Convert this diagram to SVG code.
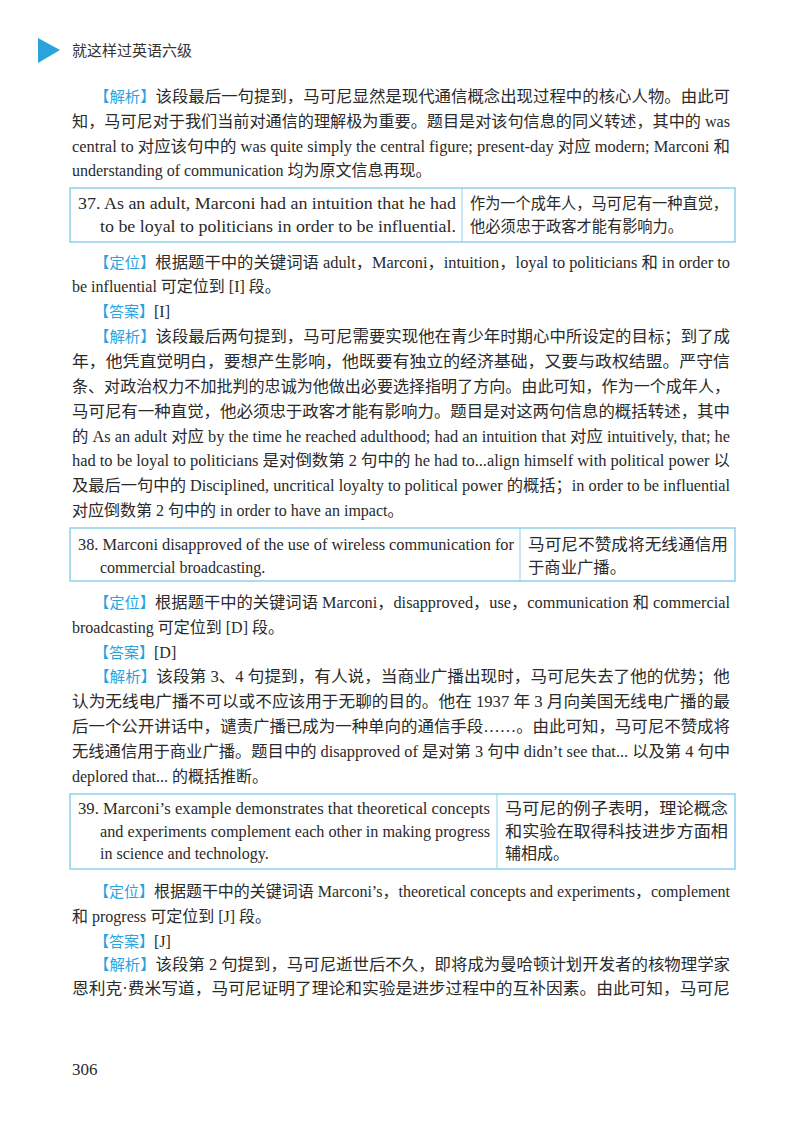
<svg xmlns="http://www.w3.org/2000/svg" width="800" height="1131" viewBox="0 0 800 1131">
<style>
.t{font-family:"Liberation Serif","Noto Sans CJK SC",serif;font-size:16px;fill:#2a2a2a}
.k{fill:#2aa3dc;font-family:"Noto Sans CJK SC",sans-serif;font-size:15px}
.b{fill:#fff;stroke:#8fd0ea;stroke-width:1.5}
.d{stroke:#8fd0ea;stroke-width:1}
.h{font-family:"Noto Sans CJK SC",sans-serif;font-size:15px;fill:#333}
</style>
<rect width="800" height="1131" fill="#fff"/>
<g id="header"><polygon points="38,38 60,50 38,63" fill="#2aa3dc"/><text class="h" x="72" y="56">就这样过英语六级</text></g>
<g id="p1">
<text class="t" x="94" y="102" textLength="636" lengthAdjust="spacingAndGlyphs"><tspan class="k">【解析】</tspan>该段最后一句提到，马可尼显然是现代通信概念出现过程中的核心人物。由此可</text>
<text class="t" x="72" y="127" textLength="658" lengthAdjust="spacingAndGlyphs">知，马可尼对于我们当前对通信的理解极为重要。题目是对该句信息的同义转述，其中的 was</text>
<text class="t" x="72" y="152" textLength="658" lengthAdjust="spacingAndGlyphs">central to 对应该句中的 was quite simply the central figure; present-day 对应 modern; Marconi 和</text>
<text class="t" x="72" y="176">understanding of communication 均为原文信息再现。</text>
</g>
<g id="box37"><rect class="b" x="70" y="188" width="665" height="54"/><line class="d" x1="462" y1="188" x2="462" y2="242"/>
<text class="t" x="78" y="209" textLength="378" lengthAdjust="spacingAndGlyphs">37. As an adult, Marconi had an intuition that he had</text>
<text class="t" x="100" y="232" textLength="356" lengthAdjust="spacingAndGlyphs">to be loyal to politicians in order to be influential.</text>
<text class="t" x="470" y="209" textLength="258" lengthAdjust="spacingAndGlyphs">作为一个成年人，马可尼有一种直觉，</text>
<text class="t" x="470" y="232" textLength="213" lengthAdjust="spacingAndGlyphs">他必须忠于政客才能有影响力。</text></g>
<g id="p2">
<text class="t" x="94" y="268" textLength="636" lengthAdjust="spacingAndGlyphs"><tspan class="k">【定位】</tspan>根据题干中的关键词语 adult，Marconi，intuition，loyal to politicians 和 in order to</text>
<text class="t" x="72" y="292">be influential 可定位到 [I] 段。</text>
<text class="t" x="94" y="317"><tspan class="k">【答案】</tspan>[I]</text>
<text class="t" x="94" y="342" textLength="636" lengthAdjust="spacingAndGlyphs"><tspan class="k">【解析】</tspan>该段最后两句提到，马可尼需要实现他在青少年时期心中所设定的目标；到了成</text>
<text class="t" x="72" y="367" textLength="658" lengthAdjust="spacingAndGlyphs">年，他凭直觉明白，要想产生影响，他既要有独立的经济基础，又要与政权结盟。严守信</text>
<text class="t" x="72" y="392" textLength="658" lengthAdjust="spacingAndGlyphs">条、对政治权力不加批判的忠诚为他做出必要选择指明了方向。由此可知，作为一个成年人，</text>
<text class="t" x="72" y="417" textLength="658" lengthAdjust="spacingAndGlyphs">马可尼有一种直觉，他必须忠于政客才能有影响力。题目是对这两句信息的概括转述，其中</text>
<text class="t" x="72" y="442" textLength="658" lengthAdjust="spacingAndGlyphs">的 As an adult 对应 by the time he reached adulthood; had an intuition that 对应 intuitively, that; he</text>
<text class="t" x="72" y="466" textLength="658" lengthAdjust="spacingAndGlyphs">had to be loyal to politicians 是对倒数第 2 句中的 he had to...align himself with political power 以</text>
<text class="t" x="72" y="491" textLength="658" lengthAdjust="spacingAndGlyphs">及最后一句中的 Disciplined, uncritical loyalty to political power 的概括；in order to be influential</text>
<text class="t" x="72" y="516">对应倒数第 2 句中的 in order to have an impact。</text>
</g>
<g id="box38"><rect class="b" x="70" y="528" width="665" height="53"/><line class="d" x1="520" y1="528" x2="520" y2="581"/>
<text class="t" x="78" y="550" textLength="436" lengthAdjust="spacingAndGlyphs">38. Marconi disapproved of the use of wireless communication for</text>
<text class="t" x="100" y="573">commercial broadcasting.</text>
<text class="t" x="528" y="550" textLength="200" lengthAdjust="spacingAndGlyphs">马可尼不赞成将无线通信用</text>
<text class="t" x="528" y="573" textLength="98" lengthAdjust="spacingAndGlyphs">于商业广播。</text></g>
<g id="p3">
<text class="t" x="94" y="608" textLength="636" lengthAdjust="spacingAndGlyphs"><tspan class="k">【定位】</tspan>根据题干中的关键词语 Marconi，disapproved，use，communication 和 commercial</text>
<text class="t" x="72" y="633">broadcasting 可定位到 [D] 段。</text>
<text class="t" x="94" y="658"><tspan class="k">【答案】</tspan>[D]</text>
<text class="t" x="94" y="682" textLength="636" lengthAdjust="spacingAndGlyphs"><tspan class="k">【解析】</tspan>该段第 3、4 句提到，有人说，当商业广播出现时，马可尼失去了他的优势；他</text>
<text class="t" x="72" y="707" textLength="658" lengthAdjust="spacingAndGlyphs">认为无线电广播不可以或不应该用于无聊的目的。他在 1937 年 3 月向美国无线电广播的最</text>
<text class="t" x="72" y="732" textLength="658" lengthAdjust="spacingAndGlyphs">后一个公开讲话中，谴责广播已成为一种单向的通信手段……。由此可知，马可尼不赞成将</text>
<text class="t" x="72" y="757" textLength="658" lengthAdjust="spacingAndGlyphs">无线通信用于商业广播。题目中的 disapproved of 是对第 3 句中 didn’t see that... 以及第 4 句中</text>
<text class="t" x="72" y="782">deplored that... 的概括推断。</text>
</g>
<g id="box39"><rect class="b" x="70" y="794" width="665" height="75"/><line class="d" x1="497" y1="794" x2="497" y2="869"/>
<text class="t" x="78" y="814" textLength="412" lengthAdjust="spacingAndGlyphs">39. Marconi’s example demonstrates that theoretical concepts</text>
<text class="t" x="100" y="837" textLength="390" lengthAdjust="spacingAndGlyphs">and experiments complement each other in making progress</text>
<text class="t" x="100" y="859">in science and technology.</text>
<text class="t" x="505" y="814" textLength="223" lengthAdjust="spacingAndGlyphs">马可尼的例子表明，理论概念</text>
<text class="t" x="505" y="837" textLength="223" lengthAdjust="spacingAndGlyphs">和实验在取得科技进步方面相</text>
<text class="t" x="505" y="859" textLength="64" lengthAdjust="spacingAndGlyphs">辅相成。</text></g>
<g id="p4">
<text class="t" x="94" y="897" textLength="636" lengthAdjust="spacingAndGlyphs"><tspan class="k">【定位】</tspan>根据题干中的关键词语 Marconi’s，theoretical concepts and experiments，complement</text>
<text class="t" x="72" y="922">和 progress 可定位到 [J] 段。</text>
<text class="t" x="94" y="947"><tspan class="k">【答案】</tspan>[J]</text>
<text class="t" x="94" y="970" textLength="636" lengthAdjust="spacingAndGlyphs"><tspan class="k">【解析】</tspan>该段第 2 句提到，马可尼逝世后不久，即将成为曼哈顿计划开发者的核物理学家</text>
<text class="t" x="72" y="994" textLength="658" lengthAdjust="spacingAndGlyphs">恩利克·费米写道，马可尼证明了理论和实验是进步过程中的互补因素。由此可知，马可尼</text>
</g>
<text class="t" x="72" y="1075" style="font-size:17px">306</text>
</svg>
